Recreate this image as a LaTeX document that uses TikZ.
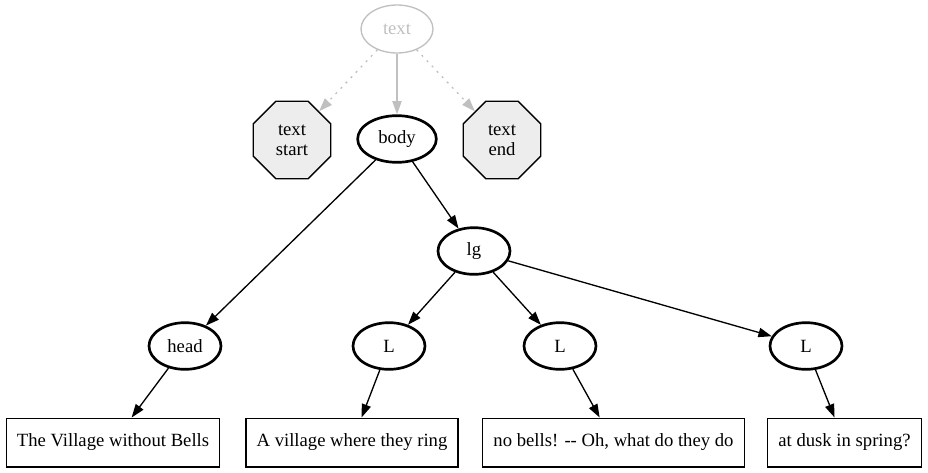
\documentclass[tikz,border=0pt]{standalone}
\usepackage{fontspec}
\setmainfont{Liberation Serif}
\usetikzlibrary{shapes.geometric,arrows.meta}
\definecolor{gvgray}{HTML}{C0C0C0}
\definecolor{octfill}{HTML}{EDEDED}
\begin{document}
\begin{tikzpicture}[x=0.75pt,y=-0.75pt,
  every node/.style={font=\fontsize{14}{15}\selectfont},
  el/.style={ellipse,draw,line width=2pt,minimum width=54pt,minimum height=35pt,inner sep=0pt},
  oct/.style={regular polygon,regular polygon sides=8,draw,line width=1pt,fill=octfill,minimum size=63pt,inner sep=0pt,align=center},
  box/.style={rectangle,draw,line width=1pt,minimum height=36.5pt,inner xsep=8pt},
  edge/.style={line width=1pt,-{Triangle[length=10pt,width=7pt]}},
  gedge/.style={edge,gvgray},
  dotedge/.style={gedge,dash pattern=on 1.5pt off 4pt},
]
\useasboundingbox (0,0) rectangle (928,472);
\node[ellipse,draw=gvgray,text=gvgray,line width=1pt,minimum width=54pt,minimum height=36pt,inner sep=0pt] (text) at (397,29) {text};
\node[oct] (tstart) at (292,140) {text\\start};
\node[el,minimum width=59pt] (body) at (397,139) {body};
\node[oct] (tend) at (502,140) {text\\end};
\node[el] (lg) at (474,251) {lg};
\node[el] (head) at (185,346) {head};
\node[el] (L1) at (389,346) {L};
\node[el] (L2) at (560,346) {L};
\node[el] (L3) at (806,346) {L};
\node[box] (b1) at (113,442.5) {The Village without Bells};
\node[box] (b2) at (352,442.5) {A village where they ring};
\node[box] (b3) at (613.5,442.5) {no bells! -{}- Oh, what do they do};
\node[box] (b4) at (844.5,442.5) {at dusk in spring?};
\draw[dotedge] (text) -- (tstart);
\draw[gedge] (text) -- (body);
\draw[dotedge] (text) -- (tend);
\draw[edge] (body) -- (head);
\draw[edge] (body) -- (lg);
\draw[edge] (lg) -- (L1);
\draw[edge] (lg) -- (L2);
\draw[edge] (lg) -- (L3);
\draw[edge] (head) -- (b1);
\draw[edge] (L1) -- (b2);
\draw[edge] (L2) -- (b3);
\draw[edge] (L3) -- (b4);
\end{tikzpicture}
\end{document}
